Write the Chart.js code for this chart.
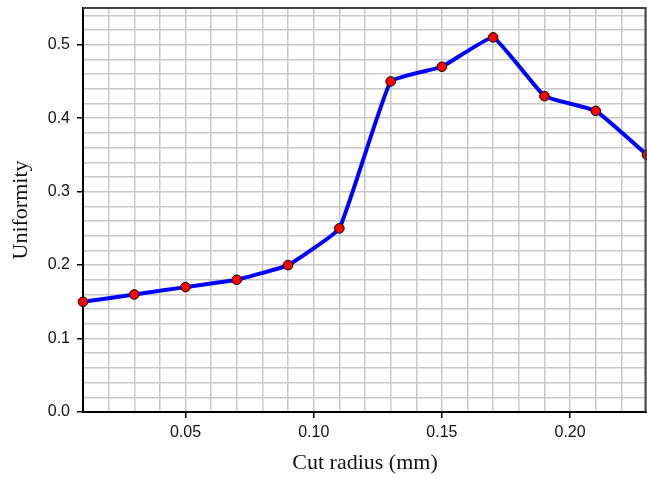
<!DOCTYPE html>
<html>
<head>
<meta charset="utf-8">
<script src="https://cdn.jsdelivr.net/npm/chart.js@4"></script>
<style>
  html, body { margin: 0; padding: 0; background: #fff; }
  #wrap { width: 647px; height: 478px; }
</style>
</head>
<body>
<div id="wrap"><canvas id="chart"></canvas></div>
<script>
// Cut radius (mm) vs uniformity
const cutRadius = [0.01, 0.03, 0.05, 0.07, 0.09, 0.11, 0.13, 0.15, 0.17, 0.19, 0.21, 0.23];
const uniformity = [0.15, 0.16, 0.17, 0.18, 0.20, 0.25, 0.45, 0.47, 0.51, 0.43, 0.41, 0.35];

const xLabelTicks = [0.05, 0.10, 0.15, 0.20];
const yLabelTicks = [0.0, 0.1, 0.2, 0.3, 0.4, 0.5];

const sansFont = "'Liberation Sans', Arial, sans-serif";
const serifFont = "'Liberation Serif', 'Times New Roman', serif";

function isLabelled(value, list) {
  return list.some(v => Math.abs(v - value) < 1e-6);
}

// no extra room for edge tick labels, layout padding decides the plot box
function noEdgePadding(scale) {
  scale.paddingTop = 0;
  scale.paddingBottom = 0;
  scale.paddingLeft = 0;
  scale.paddingRight = 0;
}

// frame on top and right of the plot area
const framePlugin = {
  id: 'frame',
  afterDraw(chart) {
    const { ctx, chartArea } = chart;
    const right = chartArea.right - 1.5;
    ctx.save();
    ctx.strokeStyle = '#444';
    ctx.lineWidth = 2;
    ctx.beginPath();
    ctx.moveTo(chartArea.left, chartArea.top);
    ctx.lineTo(right, chartArea.top);
    ctx.lineTo(right, chartArea.bottom);
    ctx.stroke();
    ctx.restore();
  }
};

const points = cutRadius.map((x, i) => ({ x: x, y: uniformity[i] }));

new Chart(document.getElementById('chart'), {
  type: 'line',
  data: {
    datasets: [{
      label: 'Uniformity',
      data: points,
      borderColor: '#0000ff',
      borderWidth: 4,
      tension: 0.1,
      pointRadius: 4.8,
      pointBackgroundColor: '#ff0000',
      pointBorderColor: '#000',
      pointBorderWidth: 1,
      clip: { left: false, top: false, right: 2, bottom: false },
      fill: false
    }]
  },
  options: {
    responsive: true,
    maintainAspectRatio: false,
    animation: false,
    layout: {
      autoPadding: false,
      padding: { top: 8, right: 0, left: 0, bottom: 0 }
    },
    plugins: {
      legend: { display: false },
      tooltip: { enabled: false }
    },
    scales: {
      x: {
        type: 'linear',
        min: 0.01,
        max: 0.23,
        afterFit: (scale) => { scale.height = 66; noEdgePadding(scale); },
        ticks: {
          stepSize: 0.01,
          autoSkip: false,
          includeBounds: false,
          maxRotation: 0,
          padding: 5,
          color: '#111',
          font: { family: sansFont, size: 16 },
          callback: (value) => isLabelled(value, xLabelTicks) ? value.toFixed(2) : ''
        },
        grid: {
          color: '#c8c8c8',
          lineWidth: 1.5,
          tickLength: 6,
          tickWidth: 1.5,
          tickColor: (ctx) => ctx.tick && isLabelled(ctx.tick.value, xLabelTicks) ? '#000' : 'rgba(0,0,0,0)'
        },
        border: { display: true, color: '#000', width: 2 },
        title: {
          display: true,
          text: 'Cut radius (mm)',
          color: '#111',
          font: { family: serifFont, size: 22 },
          padding: { top: 0, bottom: 2 }
        }
      },
      y: {
        type: 'linear',
        min: 0,
        max: 0.55,
        afterFit: (scale) => { scale.width = 83; noEdgePadding(scale); },
        ticks: {
          stepSize: 0.02,
          autoSkip: false,
          includeBounds: false,
          padding: 7,
          color: '#111',
          font: { family: sansFont, size: 16 },
          callback: (value) => isLabelled(value, yLabelTicks) ? value.toFixed(1) : ''
        },
        grid: {
          color: '#c8c8c8',
          lineWidth: 1.5,
          tickLength: 6,
          tickWidth: 1.5,
          tickColor: (ctx) => ctx.tick && isLabelled(ctx.tick.value, yLabelTicks) ? '#000' : 'rgba(0,0,0,0)'
        },
        border: { display: true, color: '#000', width: 2 },
        title: {
          display: true,
          text: 'Uniformity',
          color: '#111',
          font: { family: serifFont, size: 22 },
          padding: { top: 8, bottom: 0 }
        }
      }
    }
  },
  plugins: [framePlugin]
});
</script>
</body>
</html>
